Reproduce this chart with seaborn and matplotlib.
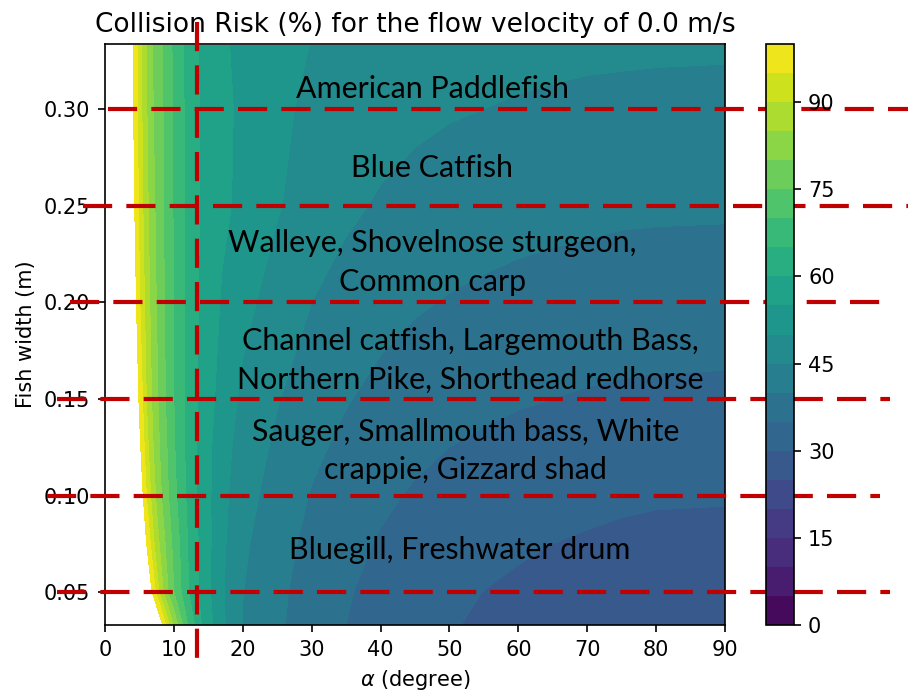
import numpy as np
import pandas as pd
import matplotlib
matplotlib.use("Agg")
import matplotlib.pyplot as plt
import seaborn as sns

# angle of the rack (degree) and fish width (m) of the grid
alpha_deg = [0, 4, 5, 6, 7, 8, 9, 10, 12, 14, 17, 20, 25, 30, 35, 40, 45, 50, 55, 60, 65, 70, 75, 80, 90]
fish_width = [0.033, 0.05, 0.075, 0.10, 0.125, 0.15, 0.20, 0.25, 0.30, 0.333]

# collision risk (%), one row per fish width (>100 = not drawn)
risk_w0033 = [250, 170, 150, 132, 117, 104, 93, 84, 70, 60, 51, 44.8, 40.8, 37.4, 35.0, 33.1, 31.6, 30.3, 29.4, 28.6, 27.85, 27.2, 26.5, 26.0, 25.5]
risk_w0050 = [250, 145, 126, 110, 98, 88.5, 81, 75, 65.5, 58.5, 50.5, 45.1, 41.1, 37.7, 35.4, 33.5, 32.1, 30.8, 29.95, 29.2, 28.5, 27.9, 27.35, 27.0, 26.75]
risk_w0075 = [250, 133, 114, 100.5, 91, 84, 78.5, 73.5, 65, 58.5, 51, 45.8, 41.9, 38.6, 36.4, 34.6, 33.2, 32.0, 31.25, 30.6, 30.0, 29.5, 29.05, 28.8, 28.6]
risk_w0100 = [250, 123, 106, 95, 87, 81, 76, 71.5, 64, 58, 51.5, 46.8, 43.0, 39.7, 37.5, 35.8, 34.5, 33.4, 32.7, 32.1, 31.6, 31.2, 30.8, 30.5, 30.4]
risk_w0125 = [250, 117, 102, 92, 85, 79.5, 75, 70.5, 63.5, 58, 52, 47.8, 44.1, 41.0, 38.9, 37.2, 36.0, 35.0, 34.3, 33.7, 33.25, 32.9, 32.5, 32.3, 32.2]
risk_w0150 = [250, 112, 99, 90, 83.5, 78.5, 74, 70, 63.5, 58.5, 53, 49.0, 45.3, 42.3, 40.3, 38.7, 37.5, 36.6, 35.95, 35.4, 35.0, 34.6, 34.3, 34.1, 34.0]
risk_w0200 = [250, 106, 95.5, 88, 82, 77.5, 73.5, 70, 63.5, 59, 54.5, 51.4, 47.9, 45.0, 43.1, 41.6, 40.5, 39.7, 39.1, 38.6, 38.2, 37.9, 37.65, 37.5, 37.4]
risk_w0250 = [250, 103, 93.5, 86.5, 81, 77, 73, 69.5, 63.5, 59.5, 56, 53.8, 50.4, 47.7, 45.9, 44.5, 43.5, 42.7, 42.2, 41.7, 41.4, 41.1, 40.8, 40.7, 40.6]
risk_w0300 = [250, 101.5, 92.5, 85.5, 80, 76.5, 73, 69.5, 63.5, 59.5, 56.2, 54.0, 51.0, 49.0, 47.7, 46.8, 46.0, 45.4, 45.0, 44.6, 44.3, 44.0, 43.85, 43.7, 43.6]
risk_w0333 = [250, 101, 92, 85, 79.5, 76, 72.5, 69, 63, 59, 55.7, 53.8, 51.5, 49.9, 49.0, 48.2, 47.55, 47.0, 46.6, 46.3, 46.1, 45.9, 45.8, 45.7, 45.6]

risk = pd.DataFrame(
    [risk_w0033, risk_w0050, risk_w0075, risk_w0100, risk_w0125,
     risk_w0150, risk_w0200, risk_w0250, risk_w0300, risk_w0333],
    index=fish_width, columns=alpha_deg)

levels = np.arange(0, 101, 5)
cbar_ticks = [0, 15, 30, 45, 60, 75, 90]

# species groups and the width limits between them
width_limits = [0.05, 0.10, 0.15, 0.20, 0.25, 0.30]
alpha_limit = 13.3
species = [
    "American Paddlefish",
    "Blue Catfish",
    "Walleye, Shovelnose sturgeon,\nCommon carp",
    "Channel catfish, Largemouth Bass,\nNorthern Pike, Shorthead redhorse",
    "Sauger, Smallmouth bass, White\ncrappie, Gizzard shad",
    "Bluegill, Freshwater drum",
]
species_pos = [(47.5, 0.3104), (47.5, 0.2695), (47.5, 0.2205),
               (53.0, 0.1700), (52.3, 0.1230), (51.5, 0.0717)]
# extent of the drawn-over dashed lines (axes fraction)
hline_ext = [(-0.077, 1.266), (-0.094, 1.25), (-0.077, 1.266),
             (-0.056, 1.263), (-0.035, 1.31), (0.005, 1.31)]
vline_ext = (1.038, -0.079)

fig = plt.figure(figsize=(908 / 150, 692 / 150), dpi=150)
ax = fig.add_axes([0.1156, 0.0968, 0.6829, 0.8396])
cax = fig.add_axes([0.8436, 0.0968, 0.0303, 0.8396])

cmap = sns.color_palette("viridis", as_cmap=True)
cs = ax.contourf(risk.columns.values, risk.index.values, risk.values,
                 levels=levels, cmap=cmap)
ax.set_xlim(0, 90)
ax.set_ylim(0.033, 0.3336)
ax.set_xticks(np.arange(0, 91, 10))
ax.set_yticks(width_limits)
ax.set_yticklabels([f"{v:.2f}" for v in width_limits])
ax.set_xlabel(r"$\alpha$ (degree)")
ax.set_ylabel("Fish width (m)")
ax.set_title("Collision Risk (%) for the flow velocity of 0.0 m/s", fontsize=12.65)

cb = fig.colorbar(cs, cax=cax, ticks=cbar_ticks)

red = "#c00000"
dash = (0, (7, 3.4))
for w, (x0, x1) in zip(width_limits, hline_ext):
    ax.plot([x0, x1], [w, w], transform=ax.get_yaxis_transform(),
            color=red, lw=2.0, linestyle=dash, clip_on=False, zorder=5)
ax.plot([alpha_limit, alpha_limit], list(vline_ext), transform=ax.get_xaxis_transform(),
        color=red, lw=2.0, linestyle=dash, clip_on=False, zorder=5)

for name, (x, y) in zip(species, species_pos):
    ax.text(x, y, name, ha="center", va="center", fontsize=14.6,
            family=["Lato", "DejaVu Sans"], linespacing=1.45, zorder=6)

fig.savefig("out.png", dpi=150)
